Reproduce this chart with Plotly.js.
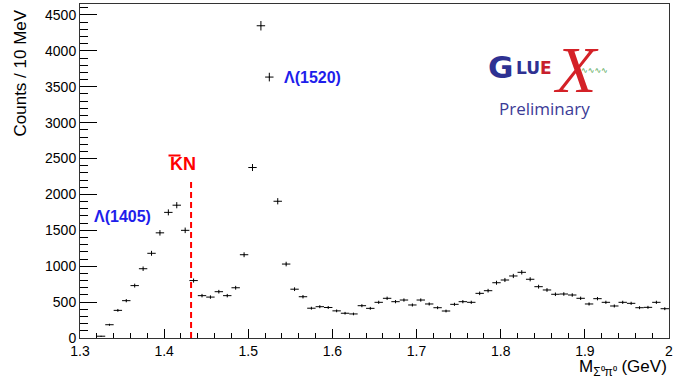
<!DOCTYPE html>
<html>
<head>
<meta charset="utf-8">
<script src="https://cdn.plot.ly/plotly-3.0.1.min.js"></script>
<style>html,body{margin:0;padding:0;background:#fff;}#chart{width:674px;height:383px;}</style>
</head>
<body>
<div id="chart"></div>
<script>
// Bin centres (GeV), 10 MeV bins
const massBins = [1.325,1.335,1.345,1.355,1.365,1.375,1.385,1.395,1.405,1.415,
  1.425,1.435,1.445,1.455,1.465,1.475,1.485,1.495,1.505,1.515,
  1.525,1.535,1.545,1.555,1.565,1.575,1.585,1.595,1.605,1.615,
  1.625,1.635,1.645,1.655,1.665,1.675,1.685,1.695,1.705,1.715,
  1.725,1.735,1.745,1.755,1.765,1.775,1.785,1.795,1.805,1.815,
  1.825,1.835,1.845,1.855,1.865,1.875,1.885,1.895,1.905,1.915,
  1.925,1.935,1.945,1.955,1.965,1.975,1.985,1.995];
// Counts per bin
const counts = [25,185,385,520,730,965,1180,1465,1750,1850,
  1500,800,590,570,645,590,700,1160,2375,4350,
  3635,1905,1030,680,575,415,436,425,378,345,
  335,450,413,497,553,506,529,460,529,474,
  422,376,469,506,497,622,659,770,808,864,
  915,818,715,669,609,613,599,553,474,548,
  497,446,497,483,422,427,497,408];
const halfBinWidth = 0.005;
const kbarNThreshold = 1.432;   // m(K-) + m(p)
const thresholdLineTop = 2200;
const xTickLabels = ['1.3','1.4','1.5','1.6','1.7','1.8','1.9','2'];
const xTickVals = [1.3,1.4,1.5,1.6,1.7,1.8,1.9,2.0];
const yTickVals = [0,500,1000,1500,2000,2500,3000,3500,4000,4500];

const FONT = 'Liberation Sans, Arial, Helvetica, sans-serif';
const W = 674, H = 383, L = 80, R = 5, T = 4, B = 45;
const pw = W - L - R, ph = H - T - B;
const px = x => (x - L) / pw;
const py = y => (H - B - y) / ph;

const trace = {
  x: massBins, y: counts, type: 'scatter', mode: 'markers',
  marker: {size: 1, color: 'black'},
  error_x: {type: 'constant', value: halfBinWidth, width: 0, thickness: 1, color: 'black'},
  error_y: {type: 'sqrt', width: 0, thickness: 1, color: 'black'},
  hoverinfo: 'skip', showlegend: false
};

const layout = {
  width: W, height: H,
  margin: {l: L, r: R, t: T, b: B},
  paper_bgcolor: 'white', plot_bgcolor: 'white',
  font: {family: FONT, color: 'black', size: 14},
  showlegend: false,
  xaxis: {
    range: [1.3, 2.0], showgrid: false, zeroline: false,
    showline: true, linecolor: '#333', linewidth: 1, mirror: true,
    ticks: 'inside', ticklen: 9, tickcolor: 'black',
    tickvals: xTickVals, ticktext: xTickLabels,
    minor: {dtick: 0.02, tick0: 1.3, ticks: 'inside', ticklen: 5, tickcolor: 'black', showgrid: false},
    tickfont: {size: 14, family: FONT}
  },
  yaxis: {
    range: [0, 4653], showgrid: false, zeroline: false,
    showline: true, linecolor: '#333', linewidth: 1, mirror: true,
    ticks: 'inside', ticklen: 17, tickcolor: 'black',
    tickvals: yTickVals, ticktext: yTickVals.map(String),
    minor: {dtick: 100, tick0: 0, ticks: 'inside', ticklen: 8, tickcolor: 'black', showgrid: false},
    tickfont: {size: 14, family: FONT}
  },
  shapes: [
    {type: 'line', xref: 'x', yref: 'y', x0: kbarNThreshold, x1: kbarNThreshold, y0: 0, y1: thresholdLineTop,
     line: {color: 'red', width: 2, dash: '6px,4px'}},
    {type: 'line', xref: 'paper', yref: 'paper', x0: px(168.5), x1: px(180.5), y0: py(155.5), y1: py(155.5),
     line: {color: 'red', width: 2}}
  ],
  annotations: [
    {xref: 'paper', yref: 'paper', x: px(20), y: py(8), xanchor: 'center', yanchor: 'top',
     textangle: -90, text: 'Counts / 10 MeV', showarrow: false, font: {size: 17, family: FONT}},
    {xref: 'paper', yref: 'paper', x: 1.0, y: py(368), xanchor: 'right', yanchor: 'middle',
     text: 'M<sub>Σ⁰π⁰</sub> (GeV)', showarrow: false, font: {size: 17, family: FONT}},
    {xref: 'paper', yref: 'paper', x: px(182.5), y: py(164), xanchor: 'center', yanchor: 'middle',
     text: '<b>KN</b>', showarrow: false, font: {size: 18, family: FONT, color: 'red'}},
    {xref: 'paper', yref: 'paper', x: px(122), y: py(216), xanchor: 'center', yanchor: 'middle',
     text: '<b>Λ(1405)</b>', showarrow: false, font: {size: 16, family: FONT, color: 'rgb(30,30,235)'}},
    {xref: 'paper', yref: 'paper', x: px(282), y: py(77), xanchor: 'left', yanchor: 'middle',
     text: '<b>Λ(1520)</b>', showarrow: false, font: {size: 16, family: FONT, color: 'rgb(30,30,235)'}},
    // GlueX logo
    {xref: 'paper', yref: 'paper', x: px(500), y: py(67), xanchor: 'center', yanchor: 'middle',
     text: '<b>G</b>', showarrow: false, font: {size: 31, family: 'DejaVu Sans, sans-serif', color: '#2e3192'}},
    {xref: 'paper', yref: 'paper', x: px(514), y: py(67.5), xanchor: 'left', yanchor: 'middle',
     text: '<b>LU<span style="color:#c8202c">E</span></b>', showarrow: false,
     font: {size: 17, family: 'DejaVu Sans, sans-serif', color: '#2e3192'}},
    {xref: 'paper', yref: 'paper', x: px(576), y: py(69), xanchor: 'center', yanchor: 'middle',
     text: '<i>X</i>', showarrow: false, font: {size: 66, family: 'Liberation Serif, serif', color: '#d42127'}},
    {xref: 'paper', yref: 'paper', x: px(594), y: py(70), xanchor: 'center', yanchor: 'middle',
     text: '∿∿∿∿', showarrow: false, font: {size: 8, family: 'DejaVu Sans, sans-serif', color: '#3a9a3a'}},
    {xref: 'paper', yref: 'paper', x: px(544), y: py(108), xanchor: 'center', yanchor: 'middle',
     text: 'Preliminary', showarrow: false, font: {size: 17, family: 'Open Sans, sans-serif', color: '#3b3b96'}}
  ]
};

Plotly.newPlot('chart', [trace], layout, {staticPlot: true, displayModeBar: false});
</script>
</body>
</html>
